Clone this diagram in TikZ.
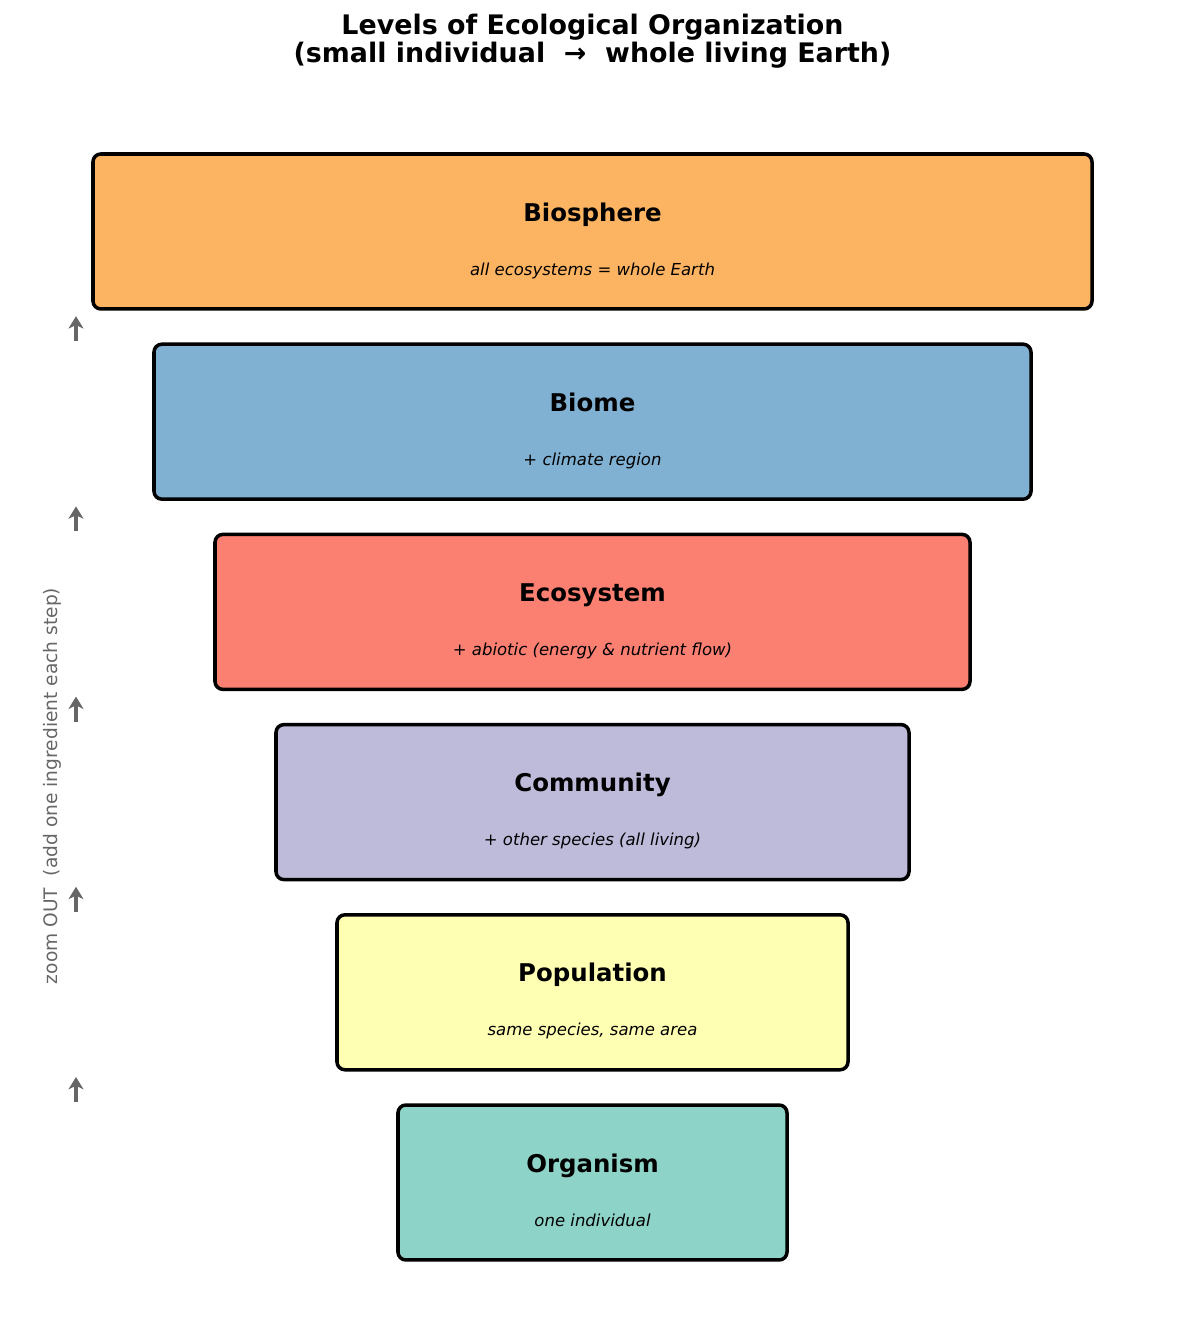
\documentclass[tikz,border=0pt]{standalone}
\usepackage{fontspec}
\setmainfont{DejaVu Sans}
\usepackage{tikz}
\usetikzlibrary{arrows.meta}
\definecolor{orgcol}{HTML}{8DD3C7}
\definecolor{popcol}{HTML}{FFFFB3}
\definecolor{comcol}{HTML}{BEBADA}
\definecolor{ecocol}{HTML}{FB8072}
\definecolor{biomecol}{HTML}{80B1D3}
\definecolor{biocol}{HTML}{FDB462}
\definecolor{notegray}{HTML}{666666}

\begin{document}
\begin{tikzpicture}[x=0.02cm, y=-0.02cm, >={Stealth[length=7pt,width=8.5pt,inset=2pt]},
		levelbox/.style={draw=black, line width=2pt, rounded corners=4.5pt, inner sep=0pt, outer sep=0pt, anchor=north, minimum height=3.1cm},
		levelname/.style={anchor=base, font=\fontsize{13.9}{16}\selectfont\bfseries},
		leveltext/.style={anchor=base, font=\fontsize{9.4}{11}\selectfont\itshape},
		zoomarrow/.style={->, draw=notegray, fill=notegray, line width=2.2pt}]
		\useasboundingbox (0,0) rectangle (1185,1332);
		% title
		\node[font=\fontsize{15.3}{15.9}\selectfont\bfseries, align=center] (title) at (592.5,41) {Levels of Ecological Organization\\(small individual\ \ →\ \ whole living Earth)};
		% levels, bottom up
		\foreach \i/\lvname/\lab/\lvtext/\col in {0/org/Organism/{one individual}/orgcol, 1/pop/Population/{same species, same area}/popcol, 2/com/Community/{+ other species (all living)}/comcol, 3/eco/Ecosystem/{+ abiotic (energy \& nutrient flow)}/ecocol, 4/biome/Biome/{+ climate region}/biomecol, 5/bio/Biosphere/{all ecosystems = whole Earth}/biocol}{
			\pgfmathsetmacro{\ytop}{1103-190.2*\i}
			\node[levelbox, fill=\col, minimum width={(389+122*\i)*0.02cm}] (\lvname) at (592.5,\ytop+2) {};
			\node[levelname] (\lvname-lab) at (592.5,\ytop+69) {\lab};
			\node[leveltext] (\lvname-sub) at (592.5,\ytop+123) {\lvtext};
			% step arrow above each box but the last
			\ifnum\i<5
				\coordinate (\lvname-tail) at (76,\ytop-1);
				\coordinate (\lvname-tip) at (76,\ytop-26);
				\draw[zoomarrow] (\lvname-tail) -- (\lvname-tip);
			\fi
		}
		% side note
		\node[rotate=90, text=notegray, font=\fontsize{10.6}{12}\selectfont] (zoomnote) at (52,786) {zoom OUT\ \ (add one ingredient each step)};
	\end{tikzpicture}
\end{document}
